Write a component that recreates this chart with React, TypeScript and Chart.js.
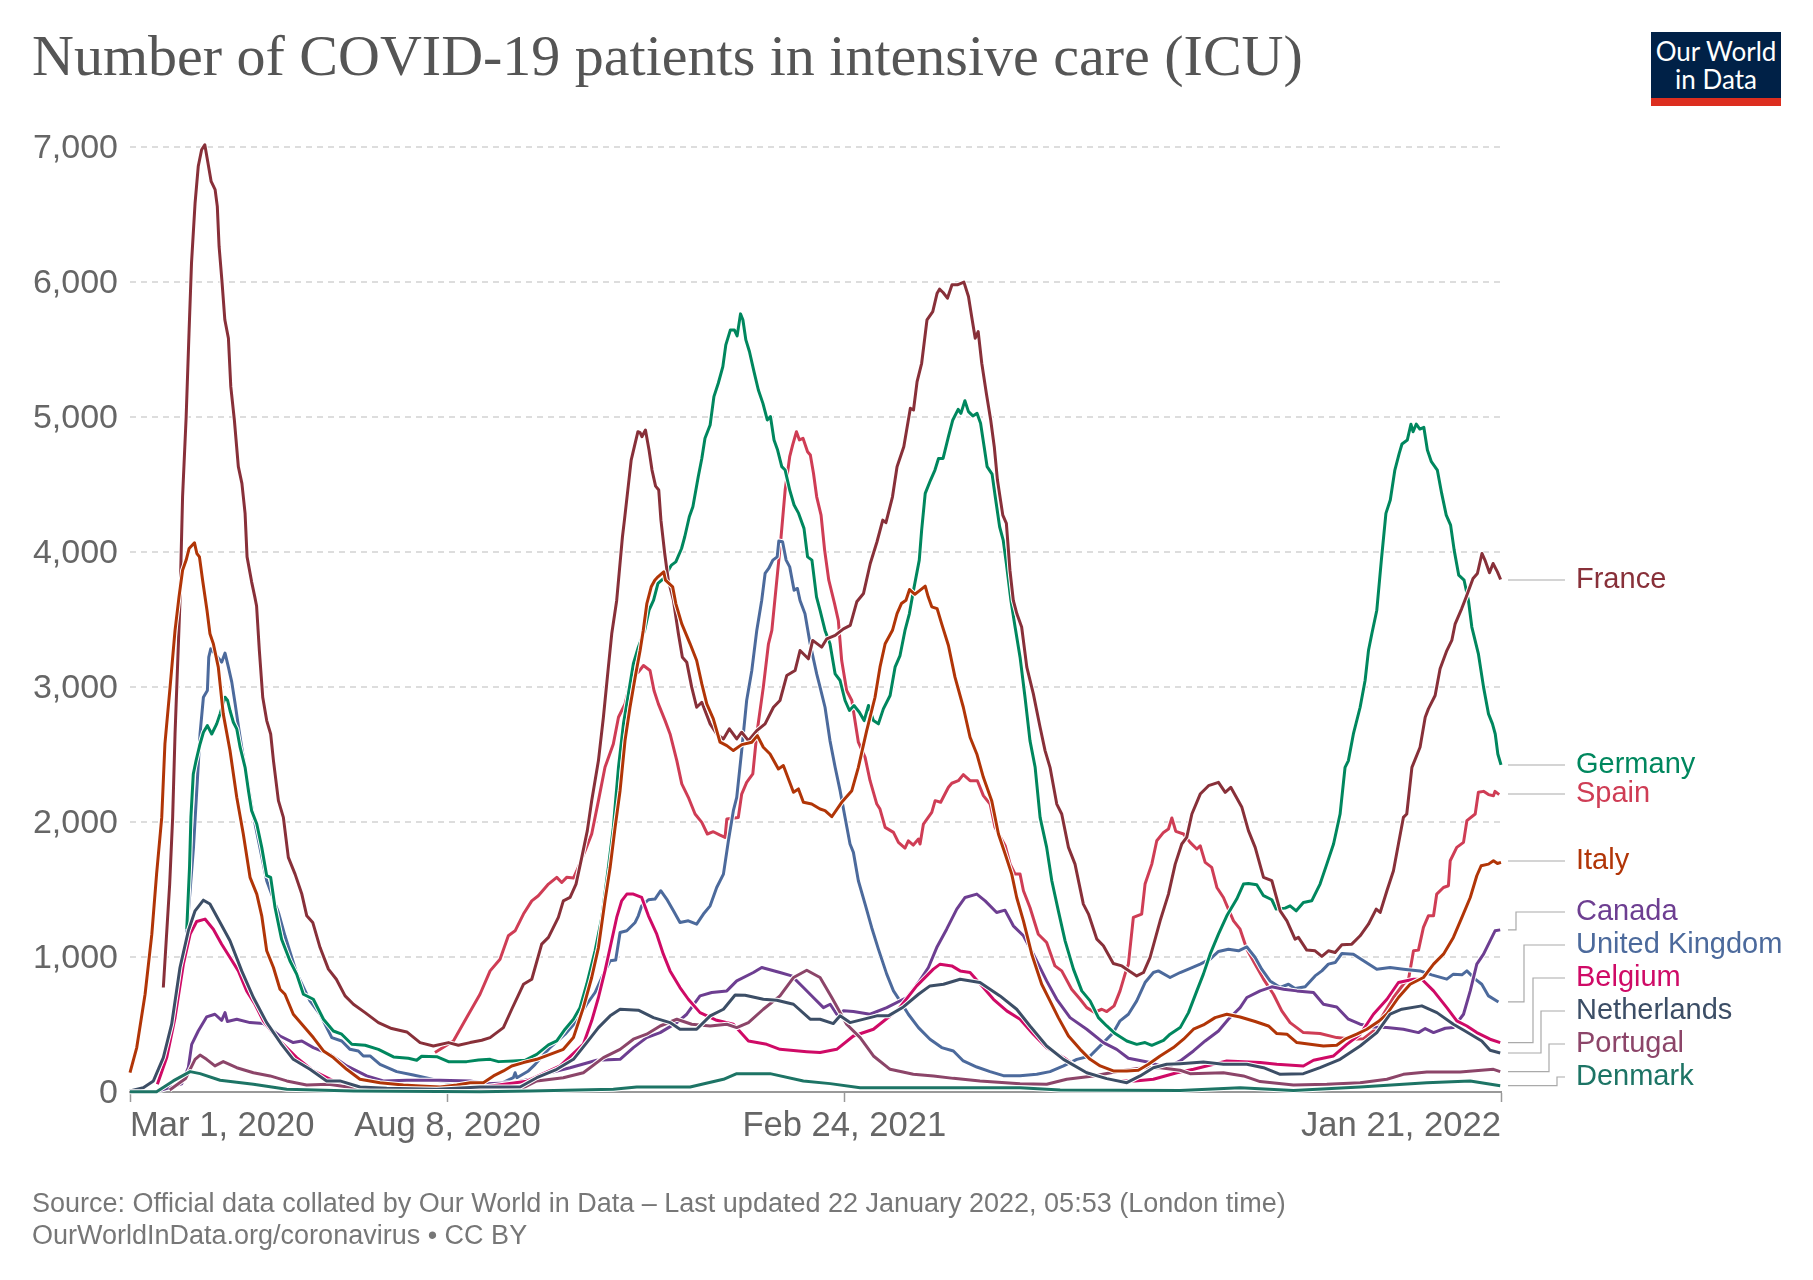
import { useEffect, useRef } from "react";
import { Chart, registerables } from "chart.js";

Chart.register(...registerables);

// days since Mar 1, 2020 -> ICU patients
const france: [number, number][] = [
  [16.8,774],[20,1540],[21.5,2034],[22.7,2652],[25.2,3640],[26.5,4409],[28.3,5000],[29.8,5645],[31,6140],[32.8,6585],[34.4,6857],[36.1,6980],[37.7,7017],[39.3,6881],[40.9,6745],[42.9,6684],[44,6560],[44.9,6263],[46.3,6016],[47.8,5720],[49.6,5583],[50.8,5225],[52.6,4978],[54.6,4632],[56.4,4508],[58,4286],[59,3964],[61.3,3779],[62.9,3668],[63.8,3600],[65.2,3270],[66.9,2924],[68.9,2751],[70.9,2652],[72.3,2455],[74.8,2158],[77.3,2034],[79.8,1738],[83.2,1614],[86.6,1466],[89.1,1305],[92.1,1256],[95.8,1070],[100,910],[104,835],[108.4,712],[112.6,650],[118.5,588],[125.2,514],[131.9,470],[139.5,445],[146.2,366],[152.9,341],[160.5,366],[165.5,346],[171.4,366],[177.3,383],[181.5,403],[188.2,477],[192.4,613],[198.3,798],[202.5,835],[207.5,1095],[210.9,1145],[215.9,1293],[218.4,1416],[221.8,1441],[224.8,1540],[227.7,1738],[230.5,1936],[232.7,2158],[236.1,2455],[238.6,2776],[241.1,3147],[242.8,3394],[245.3,3641],[248.2,4113],[249.2,4236],[252.6,4681],[254.2,4780],[256,4891],[257.1,4884],[258,4854],[259.8,4904],[261.6,4755],[263.1,4607],[264.9,4488],[266.5,4459],[267.6,4236],[269.5,3989],[271.3,3791],[273.9,3641],[276.4,3394],[278.4,3221],[280.6,3184],[283.1,2999],[285.6,2850],[288.2,2887],[292.4,2727],[295.7,2652],[299.1,2615],[302.1,2690],[305.8,2615],[308.3,2665],[311.7,2603],[315.9,2677],[320.1,2727],[324.3,2850],[327.6,2900],[331,3085],[335.2,3122],[337.7,3270],[341.9,3209],[344.1,3345],[348.6,3295],[351.2,3357],[355.4,3382],[359.6,3431],[363,3456],[366.3,3631],[369.7,3693],[373.1,3915],[376.5,4076],[379.4,4236],[381,4217],[384.3,4409],[386.6,4632],[390,4780],[393.3,5065],[394.9,5052],[396.7,5262],[399,5398],[401.7,5720],[404.6,5781],[406.8,5917],[408,5947],[409.8,5922],[412,5880],[414.3,5979],[417,5979],[420.3,5999],[422.6,5893],[424.2,5744],[426,5584],[427.5,5633],[429.3,5398],[431.6,5176],[433.8,4978],[435.6,4780],[437.2,4533],[439.9,4273],[441.7,4212],[443.5,3865],[445.2,3641],[447,3542],[449.4,3444],[452,3147],[455.3,2949],[458.7,2702],[461.2,2529],[463.7,2405],[467.1,2133],[469.6,2059],[473,1812],[476.3,1688],[480.5,1392],[483.1,1318],[487.3,1132],[490.6,1083],[495.6,952],[499.9,934],[504,892],[507.4,860],[510.8,885],[514.1,996],[519.2,1268],[523.4,1466],[526.8,1688],[530.1,1837],[532.6,1886],[535.2,2059],[539.4,2207],[543.6,2269],[548.6,2294],[552,2220],[554.8,2257],[560.4,2109],[563.7,1936],[567.1,1812],[571.3,1590],[575.5,1565],[579.7,1342],[583.1,1268],[587.2,1132],[588.9,1145],[593.1,1051],[597.3,1046],[600.7,1004],[604,1046],[607.4,1033],[610.8,1090],[615.8,1095],[620,1157],[624.2,1243],[628.1,1355],[630.1,1330],[633.5,1491],[636.8,1639],[639.3,1837],[641.8,2034],[643.5,2059],[646.1,2405],[650.2,2554],[652.8,2776],[654.4,2838],[657.8,2937],[660.3,3135],[663.7,3270],[666.2,3345],[667.9,3468],[671.2,3581],[673.5,3668],[676.9,3804],[679.1,3841],[681.4,3989],[682.9,3940],[685.2,3846],[687,3915],[689.2,3853],[690.8,3796],
];
const germany: [number, number][] = [
  [28.6,1206],[30,1664],[30.7,2034],[31.9,2356],[33.3,2455],[35.3,2578],[37,2665],[39,2714],[41.2,2652],[43.7,2727],[45.4,2801],[47.9,2924],[49.2,2900],[50.4,2826],[52.1,2739],[53.8,2690],[55.5,2554],[58,2405],[59.7,2232],[61.3,2084],[63.9,1985],[66.4,1812],[68.9,1602],[70.9,1590],[73.1,1367],[76.4,1132],[80.6,972],[84,873],[87.4,724],[92.4,687],[97.5,539],[102.5,452],[106.7,428],[111.8,354],[118.5,346],[125.2,316],[132.8,260],[140.3,250],[144.5,235],[147,265],[154.6,262],[160.5,225],[169.7,225],[175.6,237],[181.5,242],[185.7,225],[193.2,230],[199.1,235],[205,279],[210.9,349],[215.1,378],[219.3,465],[223.5,539],[226.8,625],[230.2,798],[234.4,1046],[237.8,1293],[241.1,1664],[243.6,1960],[246.2,2405],[248.7,2727],[251.2,2949],[253.7,3172],[256.2,3295],[259.4,3420],[261.6,3569],[263.9,3643],[266.1,3767],[269,3804],[272.9,3903],[275.1,3927],[278,4026],[279.6,4113],[281.9,4261],[283.7,4335],[286.4,4558],[288.2,4693],[289.8,4842],[292.4,4941],[294.3,5151],[296.5,5250],[298.8,5373],[300.3,5534],[302.6,5645],[304.6,5645],[306,5601],[307.7,5764],[308.9,5720],[310.4,5571],[312.2,5485],[314.5,5336],[316.7,5200],[319,5101],[321.2,4978],[322.8,5003],[324.6,4830],[326.4,4755],[328.5,4632],[330.2,4607],[332.5,4459],[334.7,4348],[337,4286],[339.7,4175],[341.5,3964],[343.7,3940],[346,3668],[347.8,3567],[350.3,3419],[352.8,3320],[355.4,3097],[357.9,3048],[360.4,2900],[362.6,2826],[364.9,2863],[367.6,2813],[370,2751],[372.2,2863],[374.7,2751],[377.2,2727],[379.7,2838],[383.1,2937],[385.6,3147],[388.1,3233],[390.6,3419],[392.8,3542],[394.9,3717],[397.8,3940],[399,4162],[400.8,4434],[403.5,4533],[405.7,4607],[407.5,4693],[409.8,4693],[412.5,4854],[414.7,4978],[417.4,5057],[418.8,5027],[420.8,5121],[422.6,5040],[424.8,5008],[426.9,5027],[428.7,4953],[430.5,4780],[432,4632],[434.5,4577],[436.1,4409],[438.3,4187],[440.1,4088],[441.7,3915],[444,3641],[446.1,3444],[448.6,3221],[451.1,2924],[453.6,2603],[456.2,2405],[458.7,2034],[462,1812],[464.6,1565],[467.9,1342],[471.3,1120],[475.5,910],[479.7,749],[483.9,675],[488.1,551],[492.3,489],[496.5,433],[502.4,378],[507.4,353],[511.6,366],[515,346],[520.9,383],[524.2,428],[529.3,477],[533.5,588],[537.7,749],[541,873],[544.4,1021],[548.6,1169],[552.8,1305],[557.8,1429],[561.2,1540],[563.7,1545],[567.9,1535],[571.3,1454],[575.5,1424],[577.7,1355],[582.2,1362],[584.7,1379],[587.8,1342],[591.4,1404],[595.6,1416],[599.8,1540],[603.2,1688],[606.6,1837],[609.9,2059],[612.4,2405],[614.1,2455],[616.6,2652],[620,2850],[622.5,3048],[624.2,3270],[625.9,3394],[628.4,3569],[630.7,3940],[633,4286],[635.2,4385],[637.5,4607],[639.7,4730],[641.1,4800],[643.8,4830],[645.6,4946],[646.7,4891],[648.3,4948],[650.1,4911],[652.1,4924],[653.9,4755],[655.9,4669],[658.9,4607],[661.1,4434],[663.4,4273],[665.6,4199],[667.4,4014],[669.7,3828],[672.4,3791],[674.6,3641],[676.3,3444],[679.6,3246],[682.2,2999],[684.7,2801],[686.7,2727],[688.1,2652],[689.4,2504],[691,2423],
];
const spain: [number, number][] = [
  [153.7,292],[163,378],[169.7,551],[176.4,724],[181.5,897],[186.5,984],[190.7,1157],[194.1,1194],[198.3,1318],[202.5,1416],[205.8,1454],[210.9,1540],[215.1,1590],[217.6,1552],[220.1,1590],[223.5,1585],[225.2,1639],[229.4,1787],[232.7,1911],[236.1,2158],[239.4,2405],[243.6,2578],[246.2,2776],[249.5,2875],[252.9,3073],[256.2,3110],[258.8,3159],[262.1,3122],[264.1,2974],[266.3,2875],[269.7,2751],[272.2,2652],[275.6,2455],[278.1,2282],[281.4,2183],[284.8,2059],[288.2,1997],[291,1911],[294,1928],[297.4,1903],[299.9,1886],[300.8,2022],[306.6,2034],[308.3,2207],[310.8,2294],[313.9,2356],[315.9,2652],[319.2,2999],[321.8,3320],[323.5,3420],[328,4088],[330.2,4459],[332.5,4706],[334,4793],[335.9,4891],[337.4,4830],[339.2,4842],[341.5,4743],[342.9,4718],[344.5,4582],[346.1,4409],[348.3,4273],[350.1,4014],[352.2,3791],[355.1,3618],[357,3493],[358.7,3196],[361.2,2974],[363.8,2900],[367.1,2591],[370.5,2479],[373,2306],[376.4,2133],[378,2096],[380.6,1960],[384.8,1923],[387.3,1849],[390.6,1807],[392.3,1861],[394.8,1829],[397.4,1874],[398.2,1837],[399.9,1985],[404.1,2071],[405.8,2158],[408.6,2146],[412.5,2257],[414.2,2287],[417.5,2306],[420,2351],[423.4,2306],[427.1,2306],[430.1,2195],[433.5,2133],[436,1960],[441.1,1824],[443.6,1688],[446.1,1614],[448.6,1614],[450.3,1491],[453.6,1367],[457.8,1169],[462,1107],[466.2,934],[469.6,897],[474.6,761],[478.9,687],[482.2,625],[486,590],[489.8,613],[492.3,596],[496,638],[499,749],[501.5,873],[503.2,947],[505.7,1293],[509.9,1318],[511.6,1540],[515,1688],[517.5,1861],[520.9,1923],[523.4,1948],[525.1,2030],[527.1,1931],[531,1911],[534.3,1849],[537.7,1800],[539.4,1824],[541.9,1701],[545.2,1664],[547.8,1515],[551.1,1441],[553.6,1355],[556.2,1268],[559.5,1206],[562.9,1058],[567.1,947],[571.3,836],[576.3,724],[580.5,601],[584.7,514],[591.4,440],[599.8,433],[608.2,403],[616.6,391],[621.7,395],[626.7,452],[636.8,700],[641.8,798],[644.4,835],[646.9,1046],[649.4,1051],[651.9,1219],[654.4,1305],[657,1305],[658.6,1466],[662,1515],[664.5,1528],[665.4,1713],[668.7,1812],[672.1,1849],[673.8,2010],[678,2059],[679.6,2220],[682.2,2227],[684.7,2203],[687.2,2195],[688,2227],[690.1,2203],
];
const italy: [number, number][] = [
  [0,143],[3.4,329],[7.6,724],[11,1169],[13.4,1614],[16,2034],[17.6,2578],[20.2,2999],[22.7,3419],[24.7,3668],[26.5,3865],[28.3,3940],[29.8,4026],[32.5,4068],[33.7,3989],[35,3964],[36.6,3791],[38.8,3569],[40.3,3394],[42,3320],[44.5,3147],[47,2801],[50.4,2529],[53.8,2183],[57.1,1911],[60.5,1590],[63.9,1466],[66.4,1305],[68.9,1046],[72.3,922],[75.6,761],[78.1,724],[82.3,576],[87.4,489],[92.4,403],[97.5,304],[102.5,255],[109.2,168],[115.9,94],[126,69],[137.8,52],[146.2,44],[156.3,37],[164.7,52],[171.4,69],[178.1,69],[183.2,119],[188.2,156],[192.4,193],[198.3,218],[205,242],[211.7,279],[218.4,316],[223.5,403],[228.5,625],[232.7,848],[236.1,1070],[239.4,1416],[242,1664],[244.5,1960],[247,2232],[249.5,2603],[252,2850],[254.6,3073],[257.1,3270],[258.7,3420],[260.5,3618],[262.7,3742],[264.5,3791],[266.1,3816],[269,3853],[269.9,3791],[273.5,3742],[275.1,3618],[278.1,3468],[282.3,3320],[285.6,3196],[288.2,3023],[290.7,2875],[294,2764],[297.4,2591],[300.8,2566],[304.1,2529],[308.3,2573],[313.4,2591],[316.2,2640],[319.2,2554],[322.6,2504],[326.8,2393],[329.3,2418],[334.4,2220],[336.9,2245],[339.4,2146],[343.6,2133],[347.8,2096],[350.3,2084],[353.7,2039],[358.7,2146],[363.8,2232],[367.1,2405],[371.3,2677],[375.5,2924],[378,3147],[380.6,3320],[384.3,3420],[386.6,3544],[388.8,3618],[391.1,3643],[392.9,3722],[395.6,3687],[397.8,3712],[400.8,3747],[402.3,3668],[404.1,3594],[406.8,3581],[409.1,3468],[412.5,3307],[415.8,3073],[420,2850],[423.4,2628],[426.8,2504],[430.1,2331],[434.3,2158],[437.7,1911],[441.1,1763],[444.4,1614],[446.9,1441],[450.3,1268],[454.5,1021],[459.5,798],[463.7,675],[467.9,551],[473,415],[478.9,316],[483.9,242],[489,193],[495.6,156],[502.4,156],[508.2,161],[513.3,205],[519.2,267],[525.9,329],[531,391],[536,465],[541,497],[546.9,551],[552.8,576],[559.5,556],[567.1,522],[573.8,489],[578,433],[583.1,428],[588.1,366],[594.8,353],[601.5,341],[608.2,346],[612.4,391],[618.3,428],[623.4,465],[629.2,522],[633.4,576],[639.3,700],[645.2,798],[651.9,848],[657,947],[662,1021],[667,1145],[671.3,1293],[675.5,1441],[678.8,1602],[681,1676],[684.7,1688],[687.2,1713],[689.2,1693],[691,1701],
];
const unitedKingdom: [number, number][] = [
  [28.6,1180],[32,1812],[35.3,2652],[37,2924],[39,2974],[39.7,3221],[40.7,3283],[42.8,3246],[46.2,3184],[47.9,3251],[49.6,3147],[51.3,3036],[53,2875],[54.6,2714],[56.3,2554],[62,2060],[68.9,1565],[74.8,1330],[78.1,1157],[84,880],[90.7,675],[95.8,576],[101.7,403],[106.7,378],[110.9,316],[115.1,304],[117.6,267],[121,267],[126,205],[134.4,151],[142.8,126],[156.3,82],[169.7,57],[185,50],[193.2,106],[194.1,143],[195,106],[200.8,156],[204.2,205],[211.7,329],[219.3,428],[225.2,527],[230.2,650],[234.4,737],[237.8,848],[242,972],[244.8,977],[247,1182],[250.4,1194],[254.6,1256],[256.2,1305],[257.9,1379],[261.3,1424],[264.6,1429],[267.5,1491],[270.5,1429],[273.9,1342],[277.2,1256],[281.4,1268],[285.6,1243],[289,1318],[292.4,1379],[295.7,1515],[299.1,1614],[301.6,1861],[304.1,2084],[305.8,2183],[308.3,2529],[310.8,2900],[313.4,3122],[315.9,3419],[318.4,3643],[320.1,3841],[321.9,3878],[324,3940],[326.2,3964],[327,4081],[328.9,4076],[330.7,3940],[332.5,3890],[334.7,3717],[336.4,3730],[337.7,3641],[340.2,3542],[342.8,3320],[346.1,3097],[347.8,2999],[350.3,2850],[352.8,2603],[355.4,2405],[357.9,2232],[360.4,2034],[362.9,1837],[364.6,1775],[367.1,1565],[370.5,1392],[373.8,1219],[377.2,1058],[381.4,873],[384.8,749],[388.1,675],[392.3,576],[397.4,477],[403.2,391],[409.1,329],[415,304],[420,230],[426.8,185],[433.5,151],[440.2,121],[448.6,121],[457,131],[463.7,151],[470.5,193],[477.2,242],[483.9,267],[490.6,366],[495.6,440],[499,527],[503.2,576],[507.4,675],[511.6,811],[515.8,885],[518.3,897],[524.2,848],[529.3,885],[533.5,910],[539.4,947],[544.4,984],[548.6,1041],[553.6,1058],[558.7,1046],[562.9,1075],[567.1,996],[570.4,910],[574.6,823],[579.7,774],[583.9,798],[587.2,766],[592.3,779],[597.3,860],[600.7,897],[604,947],[607.4,959],[610.8,1026],[616.6,1021],[621.7,972],[628.4,910],[635.1,922],[641.8,910],[650.2,897],[656.1,868],[663.7,836],[667,873],[671.3,868],[673.8,897],[678,836],[681.3,798],[684.7,712],[689.7,667],
];
const belgium: [number, number][] = [
  [13.8,57],[18.5,255],[22.7,551],[26.9,947],[30.3,1169],[33.6,1263],[37.8,1281],[42,1206],[46.2,1095],[50.4,996],[54.6,897],[58.8,749],[63,650],[67.2,527],[73.9,403],[84,255],[92.4,156],[102.5,82],[115.9,37],[137.8,20],[163,20],[180,40],[200,80],[216.8,193],[228.5,354],[232.7,527],[236.1,700],[239.4,897],[242,1070],[245.3,1293],[247.8,1416],[250.4,1466],[253.7,1466],[257.9,1441],[261.3,1305],[265.5,1169],[268.8,1021],[272.2,897],[277.2,774],[281.4,687],[287.3,588],[295.7,531],[304.1,502],[311.7,378],[320.9,353],[327.6,316],[341.1,299],[347.8,292],[356.2,316],[364.6,415],[374.7,465],[387.3,613],[396.5,786],[404.9,910],[408.3,947],[414.2,934],[418.4,897],[423.4,885],[430.1,774],[435.2,687],[441.9,601],[448.6,539],[455.3,428],[462,329],[470.5,255],[478.9,168],[487.3,119],[497.3,82],[506.6,82],[515.8,94],[527.6,143],[536,168],[552.8,230],[569.6,218],[578,205],[591.4,193],[596.5,235],[606.6,267],[613.3,353],[620,428],[626.7,576],[633.5,687],[639.3,811],[646.9,835],[651.1,835],[657,749],[663.7,625],[668.7,527],[673.8,489],[678.8,440],[685.5,391],[690.6,366],
];
const netherlands: [number, number][] = [
  [0,7],[6.7,32],[11.8,82],[16.8,255],[21,502],[25.2,922],[29.4,1194],[32.8,1342],[37,1421],[40.3,1392],[45.4,1256],[50.4,1120],[56.3,897],[62.2,700],[68.9,514],[76.4,353],[82.3,242],[90.7,168],[99.1,82],[105.8,82],[115.9,37],[129.4,27],[154.6,20],[176.4,37],[196.6,37],[205,106],[215.1,168],[223.5,242],[230.2,366],[236.1,477],[242,564],[247,613],[256.2,606],[263.8,551],[272.2,514],[277.2,465],[285.6,465],[292.4,564],[299.1,613],[305,719],[310,717],[319.2,687],[326,680],[334.4,650],[342.8,539],[347.8,539],[354.5,507],[357.9,564],[362.9,514],[376.4,564],[382.2,564],[389.8,630],[397.4,724],[403.2,786],[410,798],[418.4,835],[428.4,811],[438.5,712],[446.9,613],[453.6,489],[462,341],[470.5,242],[482.2,143],[492.3,99],[502.4,69],[509.1,119],[515.8,180],[522.5,205],[529.3,210],[541,222],[551.1,205],[562.9,205],[571.3,180],[579.7,131],[591.4,136],[599.8,180],[609.9,242],[620,341],[628.4,440],[635.1,576],[641,613],[651.1,638],[658.7,588],[667,502],[672.9,452],[681.3,378],[685.5,309],[690.6,289],
];
const canada: [number, number][] = [
  [15,10],[26,60],[29.4,180],[31.1,353],[34.4,452],[38.6,556],[42.8,576],[46.2,531],[47.9,588],[49.1,522],[53.8,539],[60.5,514],[67.2,507],[75.6,415],[82.3,366],[86.6,378],[92.4,329],[100.8,279],[109.2,193],[119.3,119],[127.7,82],[139.5,87],[156.3,87],[171.4,82],[179.8,62],[193.2,69],[201.6,94],[210,136],[221.8,180],[235.2,235],[247,242],[253.7,329],[260.4,403],[267.2,440],[275.6,514],[280.6,576],[287.3,712],[293.2,737],[300.8,749],[305.8,823],[314.2,885],[318.4,922],[327.6,885],[333.5,860],[339.4,774],[344.4,700],[349.5,625],[352.9,650],[356.2,576],[359.6,601],[364.6,596],[373,576],[381.4,625],[391.5,700],[397.4,811],[402.4,922],[406.6,1070],[411.6,1206],[416.7,1355],[420.9,1441],[426.8,1466],[431,1416],[436.8,1330],[441,1347],[445.2,1231],[450.3,1157],[455.3,1021],[462,823],[467.1,687],[473.8,551],[482.2,465],[490.6,366],[497.3,316],[503.2,250],[514.1,218],[522.5,180],[529.3,230],[536,304],[541.9,378],[548.6,452],[553.6,539],[559.5,625],[562.9,700],[569.6,749],[575.5,779],[581.4,761],[588.1,749],[596.5,737],[601.5,650],[608.2,630],[614.1,539],[620,502],[626.7,482],[633.5,477],[641.8,465],[649.4,440],[652.8,470],[657,440],[662.9,472],[667,477],[672.1,576],[675.5,749],[678.8,947],[682.2,1021],[685.5,1120],[688,1194],[690.6,1201],
];
const portugal: [number, number][] = [
  [20,15],[28,100],[32.8,242],[35.3,274],[38.6,242],[42.8,193],[47,225],[53.8,180],[62.2,143],[70.6,119],[79,82],[89,52],[100,57],[112.6,32],[129.4,27],[154.6,20],[171.4,20],[188.2,32],[198.3,32],[205,82],[218.4,106],[228.5,143],[238.6,255],[247,316],[253.7,391],[260.4,428],[267.2,489],[275.6,539],[283.1,502],[292.4,489],[300.8,502],[305.8,477],[311.7,514],[319.2,613],[327.6,712],[334.4,848],[341.1,902],[347.8,848],[353.7,700],[361.2,502],[368,403],[374.7,267],[383.1,168],[394.8,131],[405,119],[415,101],[428.4,82],[448.6,62],[462,57],[472.1,94],[485.6,119],[499,156],[510.8,180],[519.2,180],[529.3,161],[534.3,136],[551.1,143],[561.2,119],[569.6,77],[586.4,52],[603.2,57],[620,69],[633.5,94],[641.8,131],[653.6,148],[670.4,148],[687.2,168],[690.6,151],
];
const denmark: [number, number][] = [
  [0,2],[13.4,2],[21.8,82],[30.3,151],[35.3,136],[45.4,87],[62.2,57],[79,20],[112.6,7],[176.4,2],[201.6,7],[243.6,20],[255.4,37],[282.3,37],[299.1,94],[305.8,136],[322.6,136],[339.4,82],[352.9,62],[368,32],[398.2,32],[448.6,32],[468.8,15],[529.2,12],[559.5,32],[586.4,12],[620,37],[653.6,69],[675.5,82],[690.6,47],
];

const xTickDays = [0, 160, 360, 691];
const xTickLabels = ["Mar 1, 2020", "Aug 8, 2020", "Feb 24, 2021", "Jan 21, 2022"];
const yTicks = [0, 1000, 2000, 3000, 4000, 5000, 6000, 7000];

// drawn bottom to top
const seriesList = [
  { name: "Spain", rows: spain, color: "#cf3d55" },
  { name: "United Kingdom", rows: unitedKingdom, color: "#4c6a9c" },
  { name: "Canada", rows: canada, color: "#6d3e91" },
  { name: "Belgium", rows: belgium, color: "#cf0a66" },
  { name: "Portugal", rows: portugal, color: "#8c4569" },
  { name: "Germany", rows: germany, color: "#00875e" },
  { name: "France", rows: france, color: "#883039" },
  { name: "Italy", rows: italy, color: "#b13507" },
  { name: "Netherlands", rows: netherlands, color: "#3c4e66" },
  { name: "Denmark", rows: denmark, color: "#1d7465" },
];

// label y and elbow x of the leader lines on the right
const labelSpots: Record<string, { y: number; elbow?: number }> = {
  France: { y: 580 },
  Germany: { y: 765 },
  Spain: { y: 794 },
  Italy: { y: 861 },
  Canada: { y: 912, elbow: 1516 },
  "United Kingdom": { y: 945, elbow: 1524 },
  Belgium: { y: 978, elbow: 1533 },
  Netherlands: { y: 1011, elbow: 1541 },
  Portugal: { y: 1044, elbow: 1549 },
  Denmark: { y: 1077, elbow: 1557 },
};

const FONT = "'Liberation Sans', Arial, sans-serif";

// white outline under every line
const haloPlugin = {
  id: "halo",
  beforeDatasetDraw(chart: any, args: any) {
    const ctx = chart.ctx;
    ctx.save();
    ctx.strokeStyle = "#fff";
    ctx.lineWidth = 5;
    ctx.lineJoin = "round";
    ctx.beginPath();
    args.meta.dataset.path(ctx);
    ctx.stroke();
    ctx.restore();
  },
};

const labelPlugin = {
  id: "lineLabels",
  afterDraw(chart: any) {
    const ctx = chart.ctx;
    const yScale = chart.scales.y;
    ctx.save();
    ctx.font = `29px ${FONT}`;
    ctx.textBaseline = "middle";
    ctx.textAlign = "left";
    seriesList.forEach((s) => {
      const spot = labelSpots[s.name];
      const last = s.rows[s.rows.length - 1][1];
      const endY = spot.elbow ? yScale.getPixelForValue(last) : spot.y;
      ctx.strokeStyle = "#aaa";
      ctx.lineWidth = 1.2;
      ctx.beginPath();
      ctx.moveTo(1508, endY);
      if (spot.elbow) {
        ctx.lineTo(spot.elbow, endY);
        ctx.lineTo(spot.elbow, spot.y);
      }
      ctx.lineTo(1565, spot.y);
      ctx.stroke();
      ctx.fillStyle = s.color;
      ctx.fillText(s.name, 1576, spot.y);
    });
    ctx.restore();
  },
};

export default function App() {
  const canvasRef = useRef<HTMLCanvasElement>(null);

  useEffect(() => {
    const chart = new Chart(canvasRef.current!, {
      type: "line",
      data: {
        datasets: seriesList.map((s, i) => ({
          label: s.name,
          data: s.rows.map(([x, y]) => ({ x, y })),
          borderColor: s.color,
          borderWidth: 3,
          borderJoinStyle: "round",
          pointRadius: 0,
          tension: 0,
          clip: false as any,
          order: seriesList.length - i,
        })),
      },
      options: {
        responsive: false,
        animation: false,
        devicePixelRatio: 1,
        layout: { padding: { top: 147, right: 312, bottom: 128, left: 0 } },
        plugins: { legend: { display: false }, tooltip: { enabled: false } },
        scales: {
          x: {
            type: "linear",
            min: 0,
            max: 691,
            afterBuildTicks: (axis: any) => {
              axis.ticks = xTickDays.map((value) => ({ value }));
            },
            afterFit: (axis: any) => {
              axis.height = 60;
            },
            grid: {
              drawOnChartArea: false,
              tickLength: 10,
              tickColor: "#999",
              tickWidth: 1.5,
            },
            border: { color: "#999", width: 2 },
            ticks: {
              align: "inner",
              autoSkip: false,
              maxRotation: 0,
              padding: 4,
              color: "#666",
              font: { family: FONT, size: 34.6 },
              callback: (value: any) => xTickLabels[xTickDays.indexOf(value)],
            },
          },
          y: {
            min: 0,
            max: 7000,
            afterBuildTicks: (axis: any) => {
              axis.ticks = yTicks.map((value) => ({ value }));
            },
            afterFit: (axis: any) => {
              axis.width = 130;
            },
            grid: {
              color: (c: any) => (c.tick.value === 0 ? "rgba(0,0,0,0)" : "#ddd"),
              lineWidth: 2,
              drawTicks: false,
            },
            border: { display: false, dash: [6, 5] },
            ticks: {
              padding: 12,
              labelOffset: 2,
              color: "#666",
              font: { family: FONT, size: 34 },
              callback: (value: any) => Number(value).toLocaleString("en-US"),
            },
          },
        },
      },
      plugins: [haloPlugin, labelPlugin],
    } as any);
    return () => chart.destroy();
  }, []);

  return (
    <div style={{ position: "absolute", left: 0, top: 0, width: 1813, height: 1280, background: "#fff", overflow: "hidden" }}>
      <canvas ref={canvasRef} width={1813} height={1280} style={{ position: "absolute", left: 0, top: 0 }} />
      <div style={{ position: "absolute", left: 32, top: 23, fontFamily: "'Liberation Serif', serif", fontSize: 58, lineHeight: "66px", color: "#555", whiteSpace: "nowrap" }}>
        Number of COVID-19 patients in intensive care (ICU)
      </div>
      <div style={{ position: "absolute", left: 1651, top: 32, width: 130, height: 74, background: "#002147", borderBottom: "8px solid #dc2e1f", boxSizing: "border-box", color: "#fff", fontFamily: "Lato, sans-serif", fontSize: 26, lineHeight: "28px", textAlign: "center", paddingTop: 5 }}>
        Our World
        <br />
        in Data
      </div>
      <div style={{ position: "absolute", left: 32, top: 1187, fontFamily: FONT, fontSize: 27, lineHeight: "32px", color: "#777", whiteSpace: "nowrap" }}>
        Source: Official data collated by Our World in Data – Last updated 22 January 2022, 05:53 (London time)
        <br />
        OurWorldInData.org/coronavirus • CC BY
      </div>
    </div>
  );
}
